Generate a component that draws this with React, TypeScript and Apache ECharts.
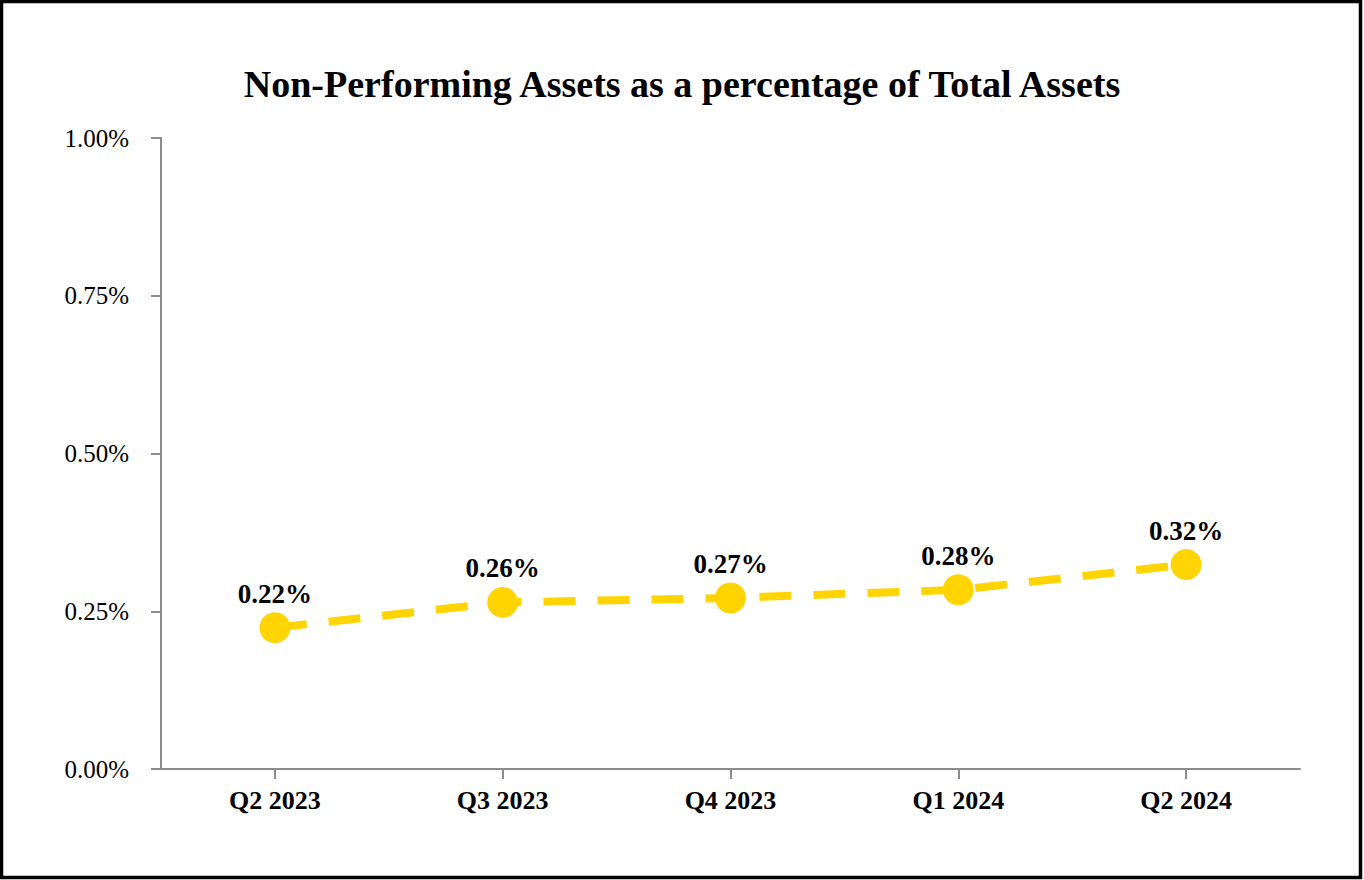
import React, { useEffect, useRef } from "react";
import * as echarts from "echarts";

const categories = ["Q2 2023", "Q3 2023", "Q4 2023", "Q1 2024", "Q2 2024"];
const values = [0.224, 0.264, 0.271, 0.284, 0.324];
const yTicks = [0, 0.25, 0.5, 0.75, 1.0];
const titleText = "Non-Performing Assets as a percentage of Total Assets";

const FONT = "'Liberation Serif', 'Times New Roman', serif";

export default function App() {
  const ref = useRef<HTMLDivElement>(null);
  useEffect(() => {
    if (!ref.current) return;
    const chart = echarts.init(ref.current, undefined, { renderer: "svg" });
    chart.setOption({
      animation: false,
      backgroundColor: "#ffffff",
      title: {
        text: titleText,
        left: "center",
        top: 60,
        textStyle: { fontFamily: FONT, fontSize: 38, fontWeight: "bold", color: "#000" },
      },
      grid: { left: 161, right: 64, top: 138, bottom: 111 },
      xAxis: {
        type: "category",
        data: categories,
        boundaryGap: true,
        axisLine: { lineStyle: { color: "#8c8c8c", width: 2 } },
        axisTick: { show: true, alignWithLabel: true, length: 10, lineStyle: { color: "#8c8c8c", width: 2 } },
        axisLabel: { fontFamily: FONT, fontSize: 26, fontWeight: "bold", color: "#000", margin: 18 },
      },
      yAxis: {
        type: "value",
        min: yTicks[0],
        max: yTicks[yTicks.length - 1],
        interval: 0.25,
        axisLine: { show: true, lineStyle: { color: "#8c8c8c", width: 2 } },
        axisTick: { show: true, length: 10, lineStyle: { color: "#8c8c8c", width: 2 } },
        splitLine: { show: false },
        axisLabel: {
          fontFamily: FONT,
          fontSize: 25,
          color: "#000",
          margin: 32,
          formatter: (v: number) => v.toFixed(2) + "%",
        },
      },
      series: [
        {
          type: "line",
          data: values,
          symbol: "circle",
          symbolSize: 31,
          itemStyle: { color: "#FFD400" },
          lineStyle: { color: "#FFD400", width: 8, type: [32, 22] },
          label: {
            show: true,
            position: "top",
            distance: 5,
            fontFamily: FONT,
            fontSize: 27,
            fontWeight: "bold",
            color: "#000",
            formatter: (p: any) => Number(p.value).toFixed(2) + "%",
          },
        },
      ],
      graphic: [
        {
          type: "rect",
          shape: { x: 1.5, y: 1.5, width: 1359, height: 876 },
          style: { fill: "none", stroke: "#000", lineWidth: 3.5 },
          silent: true,
        },
      ],
    });
    return () => chart.dispose();
  }, []);
  return (
    <div
      ref={ref}
      style={{ position: "fixed", left: 0, top: 0, width: 1364, height: 880 }}
    />
  );
}
